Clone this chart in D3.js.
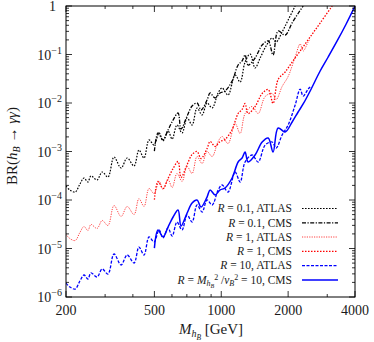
<!DOCTYPE html>
<html><head><meta charset="utf-8">
<script src="https://cdn.jsdelivr.net/npm/d3@7"></script>
<style>body{margin:0;background:#fff}</style>
</head><body>
<svg id="c" width="374" height="342"></svg>
<script>
// ---------------- data ----------------
const atlasR10Mass = [200,208,220,231,241,251,259,276,291,309,329,354,377,405,426,449,473,498,525,547,576,601,632,666,702,739,778,820,863,910,968,1009,1073,1154,1216,1280,1377,1466,1576,1694,1766,1879,2000,2151,2265,2337,2461,2513];
const atlasR10BR = [1.94e-6,1.61e-6,1.46e-6,2.14e-6,2.84e-6,2.35e-6,3.13e-6,2.59e-6,3.78e-6,2.98e-6,7.70e-6,4.57e-6,7.35e-6,5.02e-6,1.07e-5,7.35e-6,1.73e-5,1.36e-5,2.41e-5,1.65e-5,2.65e-5,1.81e-5,3.52e-5,2.41e-5,4.91e-5,3.52e-5,7.89e-5,5.66e-5,1.00e-4,7.89e-5,1.61e-4,2.04e-4,1.46e-4,3.78e-4,2.35e-4,6.07e-4,8.47e-4,6.07e-4,1.36e-3,1.57e-3,1.18e-3,2.19e-3,3.52e-3,9.10e-3,1.94e-2,1.39e-2,1.94e-2,2.14e-2];

const atlasR1Mass = [200,208,220,231,241,251,259,276,291,309,329,354,377,405,426,449,473,498,525,547,576,601,632,666,702,739,778,820,863,910,968,1009,1073,1154,1216,1280,1377,1466,1576,1694,1766,1879,2000,2151,2265,2337,2461,2513];
const atlasR1BR = [1.94e-5,1.61e-5,1.46e-5,2.14e-5,2.84e-5,2.35e-5,3.13e-5,2.59e-5,3.78e-5,2.98e-5,7.70e-5,4.57e-5,7.35e-5,5.02e-5,1.07e-4,7.35e-5,1.73e-4,1.36e-4,2.41e-4,1.65e-4,2.65e-4,1.81e-4,3.52e-4,2.41e-4,4.91e-4,3.52e-4,7.89e-4,5.66e-4,1.00e-3,7.89e-4,1.61e-3,2.04e-3,1.46e-3,3.78e-3,2.35e-3,6.07e-3,8.47e-3,6.07e-3,1.36e-2,1.57e-2,1.18e-2,2.19e-2,3.52e-2,8.88e-2,0.165,0.118,0.181,0.209];

const atlasR01Mass = [200,208,220,231,241,251,259,276,291,309,329,354,377,405,426,449,473,498,525,547,576,601,632,666,702,739,778,820,863,910,968,1009,1073,1154,1216,1280,1349,1420,1496,1592,1694,1766,1879,2000,2151];
const atlasR01BR = [1.94e-4,1.61e-4,1.46e-4,2.14e-4,2.84e-4,2.35e-4,3.13e-4,2.59e-4,3.78e-4,2.98e-4,7.70e-4,4.57e-4,7.35e-4,5.02e-4,1.07e-3,7.35e-4,1.73e-3,1.36e-3,2.41e-3,1.65e-3,2.65e-3,1.81e-3,3.52e-3,2.41e-3,4.91e-3,3.52e-3,7.89e-3,5.66e-3,1.00e-2,7.89e-3,1.61e-2,2.04e-2,1.46e-2,3.78e-2,0.0271,0.0700,0.1024,0.0527,0.0847,0.1497,0.2189,0.181,0.291,0.514,1.0];

const cmsR10Mass = [500,519,547,576,607,639,659,702,739,778,811,863,891,938,988,1040,1119,1191,1241,1280,1321,1420,1528,1626,1711,1803,1939,2085,2218,2337,2513,2787,3029,3324,3650,4000];
const cmsR10BR = [1.02e-5,2.41e-5,1.73e-5,2.78e-5,4.46e-5,6.22e-5,2.91e-5,5.40e-5,8.67e-5,1.00e-4,7.17e-5,1.15e-4,1.61e-4,1.27e-4,1.61e-4,1.77e-4,2.84e-4,6.07e-4,7.35e-4,9.77e-4,6.07e-4,8.47e-4,1.57e-3,1.90e-3,9.77e-4,3.05e-3,2.52e-3,4.06e-3,6.52e-3,9.54e-3,1.77e-2,4.57e-2,8.88e-2,0.190,0.426,1.0];

const cmsR1Mass = [500,519,547,576,607,639,659,702,739,778,811,863,891,938,988,1040,1119,1191,1241,1280,1321,1420,1528,1626,1711,1803,1939,2085,2265,2513,2787,3158];
const cmsR1BR = [1.02e-4,2.41e-4,1.73e-4,2.78e-4,4.46e-4,6.22e-4,2.91e-4,5.40e-4,8.67e-4,1.00e-3,7.17e-4,1.15e-3,1.61e-3,1.27e-3,1.61e-3,1.77e-3,2.84e-3,6.07e-3,7.35e-3,9.77e-3,6.07e-3,8.47e-3,1.57e-2,1.90e-2,9.77e-3,3.05e-2,0.0436,0.0700,0.118,0.2295,0.446,1.0];

const cmsR01Mass = [500,519,547,576,607,639,659,702,739,778,811,863,891,938,988,1040,1119,1191,1241,1280,1321,1420,1528,1626,1711,1803,1939,2085,2218,2337];
const cmsR01BR = [1.02e-3,2.41e-3,1.73e-3,2.78e-3,4.46e-3,6.22e-3,2.91e-3,5.40e-3,8.67e-3,1.00e-2,7.17e-3,1.15e-2,1.61e-2,1.27e-2,1.61e-2,1.77e-2,2.84e-2,6.07e-2,7.35e-2,9.77e-2,6.07e-2,8.47e-2,0.157,0.190,0.0977,0.305,0.252,0.45,0.70,1.0];

const xTickValues = [200,500,1000,2000,4000];
const xTickLabels = ["200","500","1000","2000","4000"];
const xMinorValues = [300,400,600,700,800,900,3000];
const yTickExponents = [0,-1,-2,-3,-4,-5,-6];

const legendLabels = ["R = 0.1, ATLAS","R = 0.1, CMS","R = 1, ATLAS","R = 1, CMS","R = 10, ATLAS","R = M2hB/v2B = 10, CMS"];

// ---------------- drawing ----------------
const FONT = "'Liberation Serif','DejaVu Serif',serif";
const svg = d3.select('#c');
const L=66,R=355,T=6,B=297;
const x = d3.scaleLog().domain([200,4000]).range([L,R]);
const y = d3.scaleLog().domain([1e-6,1]).range([B,T]);

svg.append('defs').append('clipPath').attr('id','clip')
  .append('rect').attr('x',L).attr('y',T).attr('width',R-L).attr('height',B-T);

const series = [
  {m:atlasR01Mass, v:atlasR01BR, color:'#000', w:1.2, dash:'1.6,1.4'},
  {m:cmsR01Mass, v:cmsR01BR, color:'#000', w:1.3, dash:'4,1.5,1.2,1.5'},
  {m:atlasR1Mass, v:atlasR1BR, color:'#ff4040', w:1.0, dash:'1.2,1.2'},
  {m:cmsR1Mass, v:cmsR1BR, color:'#ff0000', w:1.3, dash:'1.5,1.5'},
  {m:atlasR10Mass, v:atlasR10BR, color:'#0000ff', w:1.3, dash:'3,1.5'},
  {m:cmsR10Mass, v:cmsR10BR, color:'#0000ff', w:1.5, dash:null}
];

const line = d3.line().x(d=>x(d[0])).y(d=>y(d[1])).curve(d3.curveCatmullRom.alpha(0.5));
const gl = svg.append('g').attr('clip-path','url(#clip)');
series.forEach(s=>{
  gl.append('path').datum(s.m.map((mm,i)=>[mm,s.v[i]]))
    .attr('d',line).attr('fill','none').attr('stroke',s.color)
    .attr('stroke-width',s.w).attr('stroke-dasharray',s.dash);
});

// frame
svg.append('rect').attr('x',L).attr('y',T).attr('width',R-L).attr('height',B-T)
  .attr('fill','none').attr('stroke','#000').attr('stroke-width',1);

// ticks
const tg = svg.append('g').attr('stroke','#000').attr('stroke-width',0.8);
xTickValues.forEach(v=>{
  tg.append('line').attr('x1',x(v)).attr('x2',x(v)).attr('y1',B).attr('y2',B-6);
  tg.append('line').attr('x1',x(v)).attr('x2',x(v)).attr('y1',T).attr('y2',T+6);
});
xMinorValues.forEach(v=>{
  tg.append('line').attr('x1',x(v)).attr('x2',x(v)).attr('y1',B).attr('y2',B-3);
  tg.append('line').attr('x1',x(v)).attr('x2',x(v)).attr('y1',T).attr('y2',T+3);
});
yTickExponents.forEach(e=>{
  const v=Math.pow(10,e);
  tg.append('line').attr('x1',L).attr('x2',L+6).attr('y1',y(v)).attr('y2',y(v));
  tg.append('line').attr('x1',R).attr('x2',R-6).attr('y1',y(v)).attr('y2',y(v));
  if(e<0){
    for(let k=2;k<=9;k++){
      const vv=k*v;
      tg.append('line').attr('x1',L).attr('x2',L+3).attr('y1',y(vv)).attr('y2',y(vv));
      tg.append('line').attr('x1',R).attr('x2',R-3).attr('y1',y(vv)).attr('y2',y(vv));
    }
  }
});

function rich(g, x0, y0, parts, opts){
  const t=g.append('text').attr('x',x0).attr('y',y0)
    .attr('font-family',FONT).attr('font-size',opts.size).attr('fill','#1a1a1a')
    .attr('text-anchor',opts.anchor||'start');
  let cur=0;
  parts.forEach(p=>{
    const off=p.o||0;
    const ts=t.append('tspan').attr('dy',off-cur).attr('font-size',p.s||opts.size).text(p.t);
    if(p.i) ts.attr('font-style','italic');
    cur=off;
  });
  if(opts.rotate) t.attr('transform',`rotate(-90,${x0},${y0})`);
  return t;
}

// x tick labels
xTickValues.forEach((v,i)=>{
  svg.append('text').attr('x',x(v)).attr('y',315).attr('text-anchor','middle')
    .attr('font-family',FONT).attr('font-size',14).attr('fill','#1a1a1a').text(xTickLabels[i]);
});
// y tick labels
yTickExponents.forEach(e=>{
  const yy=y(Math.pow(10,e))+5;
  if(e===0){
    rich(svg, 56, yy, [{t:'1'}], {size:14, anchor:'end'});
  } else {
    rich(svg, 62, yy, [{t:'10'},{t:'\u2212'+(-e), o:-6, s:10}], {size:14, anchor:'end'});
  }
});

// axis titles
rich(svg, 17, 146, [{t:'BR('},{t:'h',i:1},{t:'B',i:1,o:3,s:10},{t:' \u2192 '},{t:'\u03b3\u03b3',i:1},{t:')'}], {size:15, anchor:'middle', rotate:true});
rich(svg, 211, 334, [{t:'M',i:1},{t:'h',i:1,o:3,s:10},{t:'B',i:1,o:5.5,s:7.5},{t:' [GeV]'}], {size:15, anchor:'middle'});

// legend
const legY=[208.5,222.8,237,251.3,265.6,280];
const legParts=[
  [{t:'R',i:1},{t:' = 0.1, ATLAS'}],
  [{t:'R',i:1},{t:' = 0.1, CMS'}],
  [{t:'R',i:1},{t:' = 1, ATLAS'}],
  [{t:'R',i:1},{t:' = 1, CMS'}],
  [{t:'R',i:1},{t:' = 10, ATLAS'}],
  [{t:'R',i:1},{t:' = '},{t:'M',i:1},{t:'h',i:1,o:2.5,s:8},{t:'B',i:1,o:4.5,s:6},{t:'2',o:-4,s:8},{t:' /'},{t:'v',i:1},{t:'B',i:1,o:2.5,s:8},{t:'2',o:-4,s:8},{t:' = 10, CMS'}]
];
const lg=svg.append('g');
series.forEach((s,i)=>{
  rich(lg, 292, legY[i]+3.8, legParts[i], {size:11.5, anchor:'end'}).attr('data-label',legendLabels[i]);
  lg.append('line').attr('x1',302).attr('x2',338).attr('y1',legY[i]).attr('y2',legY[i])
    .attr('stroke',s.color).attr('stroke-width',s.w).attr('stroke-dasharray',s.dash);
});
</script>
</body></html>
